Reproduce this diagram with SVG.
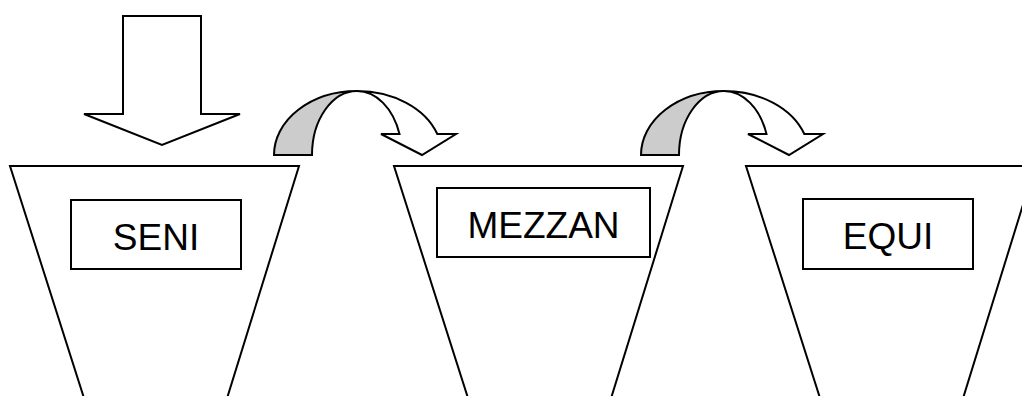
<svg xmlns="http://www.w3.org/2000/svg" width="1022" height="396" viewBox="0 0 1022 396">
  <style>
    .shape { fill: #ffffff; stroke: #000000; stroke-width: 2; stroke-linejoin: miter; }
    .back { fill: #cccccc; stroke: #000000; stroke-width: 2; }
    .label { font-family: "Liberation Sans", Arial, sans-serif; font-size: 37px; fill: #000000; text-anchor: middle; }
  </style>
  <defs>
    <g id="curved">
      <path class="back" d="M 274,155 A 83,64 0 0 1 357,91 A 45,64 0 0 0 312,155 Z"/>
      <path class="shape" d="M 357,91 A 85,64 0 0 1 437.3,134 L 456,134 L 422,155 L 381,134 L 399.5,134 A 45,64 0 0 0 357,91 Z"/>
    </g>
  </defs>
  <g id="funnel-seni">
    <polygon class="shape" points="10,166 299,166 223.4,410 87.8,410"/>
    <rect class="shape" x="71" y="200" width="170" height="69"/>
    <text class="label" x="156" y="250">SENI</text>
  </g>
  <g id="funnel-mezzan">
    <polygon class="shape" points="394,166 683,166 607.4,410 471.8,410"/>
    <rect class="shape" x="437" y="188" width="213" height="69"/>
    <text class="label" x="543.5" y="238">MEZZAN</text>
  </g>
  <g id="funnel-equi">
    <polygon class="shape" points="746,166 1035,166 959.4,410 823.8,410"/>
    <rect class="shape" x="803" y="199" width="170" height="70"/>
    <text class="label" x="888" y="249">EQUI</text>
  </g>
  <g id="connectors">
    <polygon class="shape" points="123,16 201,16 201,114 240,114 162,145 84,114 123,114"/>
    <use href="#curved"/>
    <use href="#curved" transform="translate(367,0)"/>
  </g>
</svg>
